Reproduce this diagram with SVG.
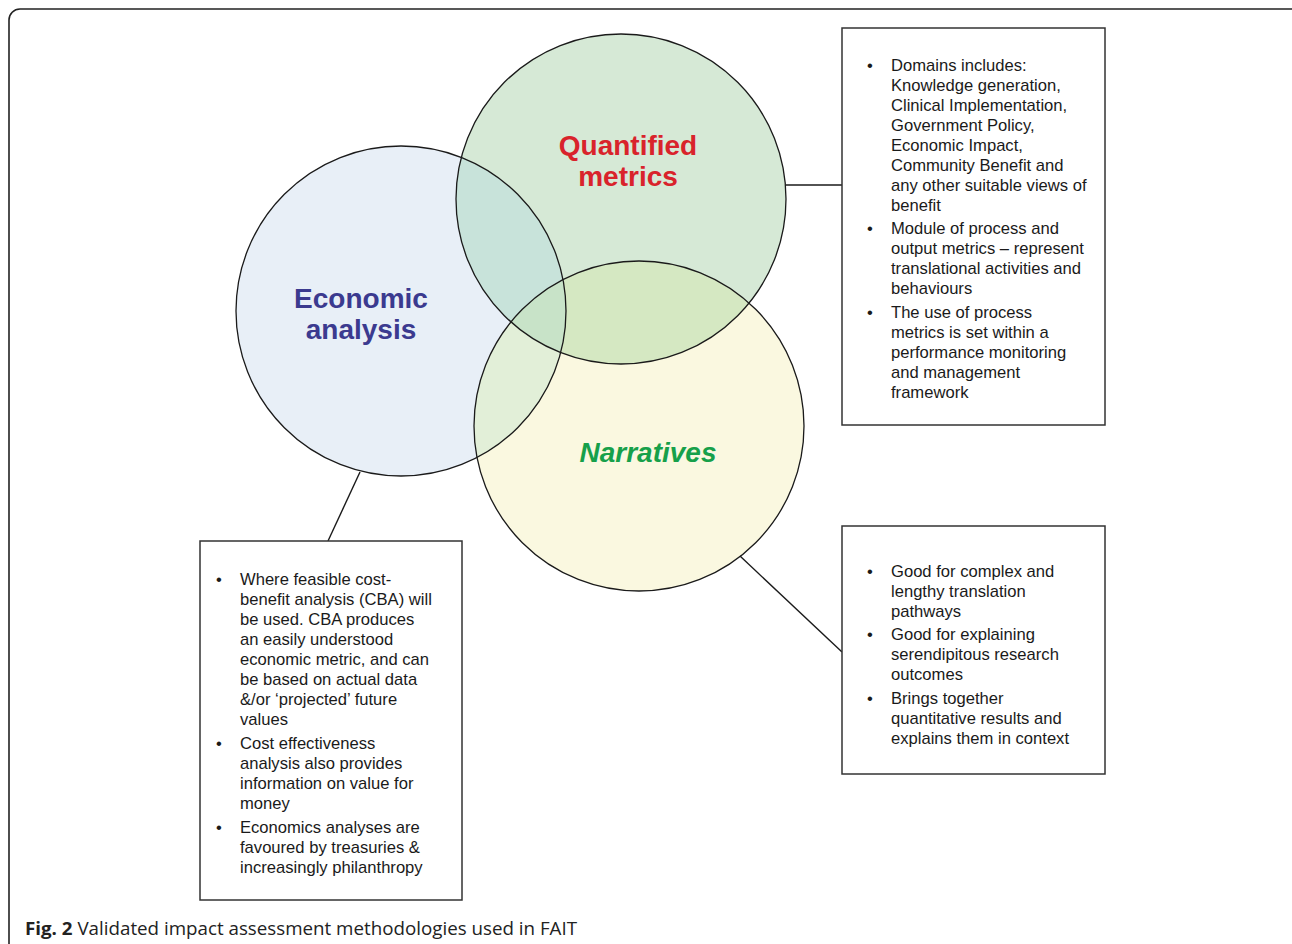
<svg xmlns="http://www.w3.org/2000/svg" width="1292" height="944" viewBox="0 0 1292 944">
<style>
.frame{fill:none;stroke:#222;stroke-width:1.6}
.outline{fill:none;stroke:#1a1a1a;stroke-width:1.3}
.box{fill:#fff;stroke:#333;stroke-width:1.5}
.conn{stroke:#1a1a1a;stroke-width:1.4;fill:none}
.t{font-family:"Liberation Sans",Arial,sans-serif;font-size:16.6px;fill:#1a1a1a}
.lbl{font-family:"Liberation Sans",Arial,sans-serif;font-size:28px;font-weight:bold;text-anchor:middle}
.cap{font-family:"Open Sans","Liberation Sans",sans-serif;font-size:18px;fill:#222}
</style>
<defs>
<clipPath id="cE"><circle cx="401" cy="311" r="165"/></clipPath>
<clipPath id="cQ"><circle cx="621" cy="199" r="165"/></clipPath>
</defs>
<rect width="1292" height="944" fill="#fff"/>
<rect class="frame" x="9" y="9" width="1296" height="960" rx="11"/>
<g id="fills">
<circle cx="401" cy="311" r="165" fill="#e8eff7"/>
<circle cx="621" cy="199" r="165" fill="#d6e9d6"/>
<circle cx="639" cy="426" r="165" fill="#faf8e0"/>
<circle cx="621" cy="199" r="165" fill="#c8e3da" clip-path="url(#cE)"/>
<circle cx="639" cy="426" r="165" fill="#e2efd8" clip-path="url(#cE)"/>
<circle cx="639" cy="426" r="165" fill="#d5e8c2" clip-path="url(#cQ)"/>
<g clip-path="url(#cE)"><circle cx="639" cy="426" r="165" fill="#c8e3c8" clip-path="url(#cQ)"/></g>
</g>
<g id="connectors">
<line class="conn" x1="786" y1="185" x2="842" y2="185"/>
<line class="conn" x1="360" y1="472" x2="328" y2="541"/>
<line class="conn" x1="740" y1="556" x2="842" y2="652"/>
</g>
<g id="economic">
<circle class="outline" cx="401" cy="311" r="165"/>
<text class="lbl" fill="#3b3a8f" x="361" y="308">Economic</text>
<text class="lbl" fill="#3b3a8f" x="361" y="339">analysis</text>
</g>
<g id="quantified">
<circle class="outline" cx="621" cy="199" r="165"/>
<text class="lbl" fill="#d9232b" x="628" y="155">Quantified</text>
<text class="lbl" fill="#d9232b" x="628" y="186">metrics</text>
</g>
<g id="narratives">
<circle class="outline" cx="639" cy="426" r="165"/>
<text class="lbl" fill="#16a04a" font-style="italic" x="648" y="462">Narratives</text>
</g>
<g id="box-metrics">
<rect class="box" x="842" y="28" width="263" height="397"/>
<g class="t">
<text x="867" y="71">•</text>
<text x="891" y="71">Domains includes:</text>
<text x="891" y="91">Knowledge generation,</text>
<text x="891" y="111">Clinical Implementation,</text>
<text x="891" y="131">Government Policy,</text>
<text x="891" y="151">Economic Impact,</text>
<text x="891" y="171">Community Benefit and</text>
<text x="891" y="191">any other suitable views of</text>
<text x="891" y="211">benefit</text>
<text x="867" y="234">•</text>
<text x="891" y="234">Module of process and</text>
<text x="891" y="254">output metrics – represent</text>
<text x="891" y="274">translational activities and</text>
<text x="891" y="294">behaviours</text>
<text x="867" y="318">•</text>
<text x="891" y="318">The use of process</text>
<text x="891" y="338">metrics is set within a</text>
<text x="891" y="358">performance monitoring</text>
<text x="891" y="378">and management</text>
<text x="891" y="398">framework</text>
</g>
</g>
<g id="box-narratives">
<rect class="box" x="842" y="526" width="263" height="248"/>
<g class="t">
<text x="867" y="577">•</text>
<text x="891" y="577">Good for complex and</text>
<text x="891" y="597">lengthy translation</text>
<text x="891" y="617">pathways</text>
<text x="867" y="640">•</text>
<text x="891" y="640">Good for explaining</text>
<text x="891" y="660">serendipitous research</text>
<text x="891" y="680">outcomes</text>
<text x="867" y="704">•</text>
<text x="891" y="704">Brings together</text>
<text x="891" y="724">quantitative results and</text>
<text x="891" y="744">explains them in context</text>
</g>
</g>
<g id="box-economic">
<rect class="box" x="200" y="541" width="262" height="359"/>
<g class="t">
<text x="216" y="585">•</text>
<text x="240" y="585">Where feasible cost-</text>
<text x="240" y="605">benefit analysis (CBA) will</text>
<text x="240" y="625">be used. CBA produces</text>
<text x="240" y="645">an easily understood</text>
<text x="240" y="665">economic metric, and can</text>
<text x="240" y="685">be based on actual data</text>
<text x="240" y="705">&amp;/or ‘projected’ future</text>
<text x="240" y="725">values</text>
<text x="216" y="749">•</text>
<text x="240" y="749">Cost effectiveness</text>
<text x="240" y="769">analysis also provides</text>
<text x="240" y="789">information on value for</text>
<text x="240" y="809">money</text>
<text x="216" y="833">•</text>
<text x="240" y="833">Economics analyses are</text>
<text x="240" y="853">favoured by treasuries &amp;</text>
<text x="240" y="873">increasingly philanthropy</text>
</g>
</g>
<text class="cap" x="25" y="935" textLength="552" lengthAdjust="spacingAndGlyphs"><tspan font-weight="bold">Fig. 2</tspan> Validated impact assessment methodologies used in FAIT</text>
</svg>
